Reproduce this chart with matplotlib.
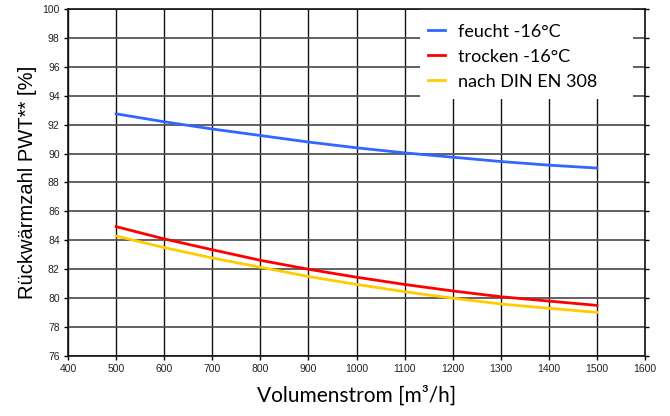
import matplotlib
matplotlib.use("Agg")
import matplotlib.pyplot as plt
from matplotlib.patches import Rectangle

# Volumenstrom [m3/h]
volumenstrom = [500, 600, 700, 800, 900, 1000, 1100, 1200, 1300, 1400, 1500]

# Rückwärmzahl [%]
feucht = [92.75, 92.2, 91.7, 91.25, 90.8, 90.4, 90.05, 89.75, 89.45, 89.2, 89.0]
trocken = [84.95, 84.1, 83.35, 82.62, 82.0, 81.45, 80.95, 80.5, 80.1, 79.8, 79.5]
din_en_308 = [84.3, 83.5, 82.78, 82.14, 81.5, 80.95, 80.45, 80.0, 79.6, 79.3, 79.02]

x_ticks = list(range(400, 1601, 100))
y_ticks = list(range(76, 101, 2))

fig = plt.figure(figsize=(6.7, 4.16), dpi=100)
ax = fig.add_axes([0.1015, 0.1442, 0.8612, 0.8342])

ax.plot(volumenstrom, feucht, color="#3366ff", lw=2, label="feucht -16°C", zorder=3)
ax.plot(volumenstrom, trocken, color="#ff0000", lw=2, label="trocken -16°C", zorder=3)
ax.plot(volumenstrom, din_en_308, color="#ffcc00", lw=2, label="nach DIN EN 308", zorder=3)

ax.set_xlim(400, 1600)
ax.set_ylim(76, 100)
ax.set_xticks(x_ticks)
ax.set_yticks(y_ticks)
ax.tick_params(axis="both", labelsize=7.5, length=3, width=1, direction="out", pad=3)
ax.tick_params(axis="y", right=True)
for lbl in ax.get_xticklabels() + ax.get_yticklabels():
    lbl.set_family("Liberation Sans")
    lbl.set_color("#222222")

ax.xaxis.grid(True, color="#111111", lw=1.0)
ax.yaxis.grid(True, color="#555555", lw=1.3)
ax.set_axisbelow(True)
for s in ax.spines.values():
    s.set_color("#111111")
    s.set_linewidth(1.2)
    s.set_zorder(6)

ax.set_xlabel("Volumenstrom [m³/h]", fontsize=15, family="Lato", labelpad=8)
ax.set_ylabel("Rückwärmzahl PWT** [%]", fontsize=14.5, family="Liberation Sans", labelpad=3.5)

# white legend background (wider than the entries, as in the original)
ax.add_patch(Rectangle((0.61, 0.741), 0.369, 0.259, transform=ax.transAxes,
                       facecolor="white", edgecolor="none", zorder=4))

leg = ax.legend(loc="upper left", bbox_to_anchor=(0.624, 0.958),
                prop={"family": "Lato", "size": 13}, frameon=False,
                handlelength=0.95, handletextpad=0.72, borderpad=0, labelspacing=0.5,
                borderaxespad=0)
leg.set_zorder(5)

fig.savefig("out.png", dpi=100)
